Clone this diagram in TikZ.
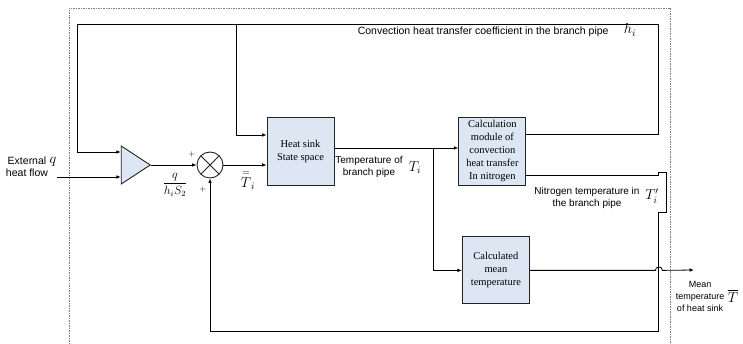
\documentclass[tikz,border=0pt]{standalone}
\usepackage{amsmath}
\usepackage{fontspec}
\setmainfont{Liberation Serif}
\setsansfont{Liberation Sans}
\usetikzlibrary{positioning,arrows.meta,shapes.geometric}
\definecolor{blockfill}{RGB}{221,230,243}
\definecolor{wire}{RGB}{35,35,35}
\tikzset{
  >={Latex[length=4.5pt,width=3.6pt]},
  blockbox/.style={draw=wire, fill=blockfill, line width=0.9pt, minimum width=67pt,
    minimum height=68pt, inner sep=1pt, align=center, font=\fontsize{10.5}{13}\selectfont},
  gainbox/.style={draw=wire, fill=blockfill, line width=0.9pt, isosceles triangle,
    isosceles triangle stretches, minimum width=38pt, minimum height=29pt, inner sep=0pt},
  sumnode/.style={draw=wire, circle, line width=0.9pt, minimum size=26pt, inner sep=0pt,
    path picture={\draw[-, line width=0.8pt]
      (path picture bounding box.north west) -- (path picture bounding box.south east)
      (path picture bounding box.north east) -- (path picture bounding box.south west);}},
  lbl/.style={font=\sffamily\fontsize{10}{12.5}\selectfont, align=center, inner sep=0pt},
  sym/.style={font=\fontsize{14}{14}\selectfont, inner sep=0pt},
  frame/.style={-, draw=gray, dash pattern=on 1.5pt off 1pt, line width=0.8pt},
}

\begin{document}
\begin{tikzpicture}[
x=1pt, y=-1pt,
->,
line width=0.8pt
]
\useasboundingbox (0,0) rectangle (743,344);
\draw[frame] (69,344) |- (670,8) -- (670,344);

% blocks
\node[gainbox] (gain) at (131.5,165) {};
\node[sumnode] (sum) at (210,165) {};
\node[blockbox] (hs) at (300.5,151) {Heat sink\\State space};
\node[blockbox, right=124pt of hs] (calc) {Calculation\\module of\\convection\\heat transfer\\In nitrogen};
\node[blockbox, below=51pt of calc, xshift=3.5pt, minimum height=67pt] (mean) {Calculated\\mean\\temperature};

% corners of the loops
\coordinate (ext) at (57,177);
\coordinate (tl) at (77,24);
\coordinate (tm) at (236,24);
\coordinate (tr) at (658,24);
\coordinate (br) at (433,148);
\coordinate (out) at (694,270);

\draw (ext) -- (ext -| gain.west);
\draw ([yshift=17pt]calc.east) -| (tr) -- (tl) |- ([yshift=13pt]gain.west);
\draw (tm) |- ([yshift=16pt]hs.west);
\draw (gain.east) -- (sum.west);
\draw (sum.east) -- (sum.east -| hs.west);
\draw ([yshift=3pt]hs.east) -- ([yshift=3pt]calc.west);
\draw (br) |- (mean.west);
\draw (mean.east) -- ++(125.5,0) arc[start angle=180, end angle=0, radius=3.5pt] -- (out);
\draw ([yshift=-24pt]calc.east) -- ++(132,0) -- ++(0,-3) -- ++(8,0) -- ++(0,40)
  -- ++(-8,0) -- ++(0,119) -| (sum.south);

% labels
\node[lbl, font=\sffamily\fontsize{10.5}{12}\selectfont] (extlbl) at (27,167) {External\\heat flow};
\node[sym] (q) at (53,162) {$q$};
\node[font=\footnotesize] (plusa) at (192,155) {$+$};
\node[font=\footnotesize] (plusb) at (203,190) {$+$};
\node[font=\fontsize{12}{12}\selectfont] (gainlbl) at (175,185) {$\dfrac{q}{h_iS_2}$};
\node[sym, font=\fontsize{14}{14}\selectfont] (tdbl) at (248,180) {$\overset{=}{T}_i$};
\node[lbl] (tlbl) at (369,167) {Temperature of\\branch pipe};
\node[sym] (ti) at (415,168) {$T_i$};
\node[lbl, anchor=east, font=\sffamily\fontsize{10.5}{12}\selectfont] (hlbl) at (609,32) {Convection heat transfer coefficient in the branch pipe};
\node[sym] (hi) at (630,30) {$h_i$};
\node[lbl] (nlbl) at (587,198) {Nitrogen temperature in\\the branch pipe};
\node[sym] (tn) at (652,196) {$T_i'$};
\node[lbl, font=\sffamily\fontsize{9}{12}\selectfont] (mlbl) at (700,296) {Mean\\temperature\\of heat sink};
\node[sym] (tbar) at (733,296) {$\overline{T}$};
\end{tikzpicture}
\end{document}
